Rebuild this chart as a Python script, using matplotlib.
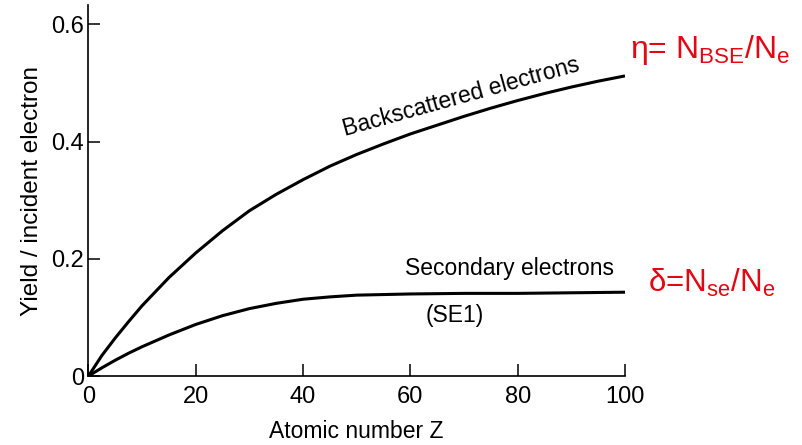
import matplotlib
matplotlib.use("Agg")
import matplotlib.pyplot as plt

plt.rcParams['font.family'] = ['Liberation Sans', 'DejaVu Sans']
plt.rcParams['mathtext.fontset'] = 'custom'
plt.rcParams['mathtext.rm'] = 'Liberation Sans'
plt.rcParams['mathtext.it'] = 'Liberation Sans'

z_bse = [0, 2.5, 5, 7.5, 10, 15, 20, 25, 30, 35, 40, 45, 50, 55, 60, 65, 70, 75, 80, 85, 90, 95, 100]
bse = [0, 0.035, 0.065, 0.093, 0.12, 0.168, 0.21, 0.248, 0.282, 0.31, 0.335, 0.358, 0.378,
       0.396, 0.413, 0.428, 0.443, 0.457, 0.47, 0.482, 0.493, 0.503, 0.512]
z_se = [0, 2.5, 5, 7.5, 10, 15, 20, 25, 30, 35, 40, 45, 50, 55, 60, 70, 80, 90, 100]
se = [0, 0.014, 0.027, 0.039, 0.05, 0.07, 0.088, 0.103, 0.115, 0.124, 0.131, 0.135, 0.138,
      0.139, 0.14, 0.141, 0.141, 0.142, 0.143]
xticks = [0, 20, 40, 60, 80, 100]
yticks = [0, 0.2, 0.4, 0.6]
yticklabels = ['0', '0.2', '0.4', '0.6']

fig = plt.figure(figsize=(8.02, 4.45), dpi=100)
ax = fig.add_axes([0.1103, 0.155, 0.6690, 0.8338])
ax.plot(z_bse, bse, color='black', lw=2.2, solid_capstyle='butt', solid_joinstyle='round')
ax.plot(z_se, se, color='black', lw=2.2, solid_capstyle='butt', solid_joinstyle='round')
ax.set_xlim(0, 100)
ax.set_ylim(0, 0.633)
for s in ['top', 'right']:
    ax.spines[s].set_visible(False)
for s in ['left', 'bottom']:
    ax.spines[s].set_linewidth(1.2)
ax.set_xticks(xticks)
ax.set_xticklabels([str(t) for t in xticks])
ax.set_yticks(yticks)
ax.set_yticklabels(yticklabels)
ax.tick_params(direction='in', length=8.5, width=1.1, labelsize=17)
ax.tick_params(axis='x', pad=7)
ax.tick_params(axis='y', pad=3)
ax.set_xlabel('Atomic number Z', fontsize=16.5, labelpad=9)
ax.set_ylabel('Yield / incident electron', fontsize=17.5, labelpad=6)

ax.text(69.5, 0.476, 'Backscattered electrons', fontsize=16.5, rotation=15.5,
        ha='center', va='center')
ax.text(78.5, 0.184, 'Secondary electrons', fontsize=16.5, ha='center', va='center')
ax.text(68.3, 0.104, '(SE1)', fontsize=16.5, ha='center', va='center')

red = '#e30613'
fig.text(0.785, 0.887, r'η= N$_{\rm BSE}$/N$_{\rm e}$', color=red, fontsize=23,
         ha='left', va='center')
fig.text(0.808, 0.364, r'δ=N$_{\rm se}$/N$_{\rm e}$', color=red, fontsize=22.5,
         ha='left', va='center')

fig.savefig('out.png', dpi=100)
